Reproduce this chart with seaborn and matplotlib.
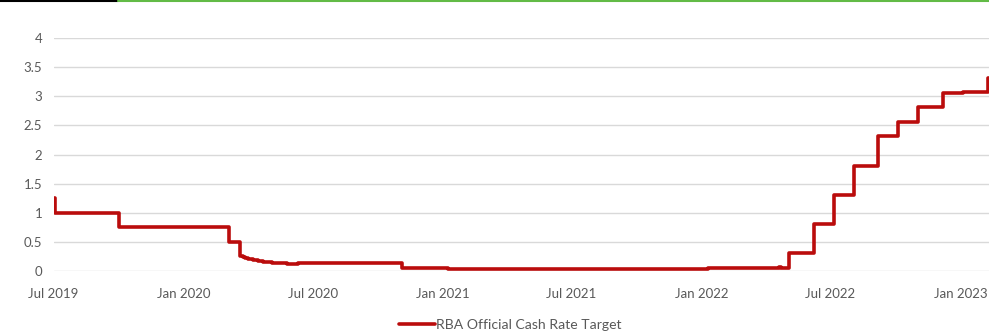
import matplotlib
matplotlib.use("Agg")
import matplotlib.pyplot as plt
import matplotlib.dates as mdates
from matplotlib.lines import Line2D
import seaborn as sns
import pandas as pd

# Data: RBA cash rate step changes (date of change, new level)
dates = [
    "2019-07-01", "2019-07-03", "2019-10-02", "2020-03-04", "2020-03-20",
    "2020-03-24", "2020-03-27", "2020-04-01", "2020-04-07", "2020-04-14",
    "2020-04-21", "2020-04-28", "2020-05-05", "2020-05-12", "2020-05-25",
    "2020-06-10", "2020-06-25", "2020-08-15", "2020-11-04", "2020-12-01",
    "2021-01-07", "2022-01-10", "2022-04-19", "2022-04-22", "2022-05-04",
    "2022-06-08", "2022-07-06", "2022-08-03", "2022-09-07", "2022-10-05",
    "2022-11-02", "2022-12-07", "2023-01-05", "2023-02-08", "2023-02-10",
]
rates = [
    1.25, 1.00, 0.75, 0.50, 0.25,
    0.245, 0.23, 0.21, 0.19, 0.17,
    0.16, 0.15, 0.14, 0.13, 0.12,
    0.13, 0.14, 0.13, 0.06, 0.05,
    0.03, 0.05, 0.065, 0.05, 0.31,
    0.81, 1.31, 1.81, 2.31, 2.56,
    2.81, 3.06, 3.08, 3.31, 3.31,
]
series_name = "RBA Official Cash Rate Target"
y_ticks = [0, 0.5, 1, 1.5, 2, 2.5, 3, 3.5, 4]
y_tick_labels = ["0", "0.5", "1", "1.5", "2", "2.5", "3", "3.5", "4"]
x_ticks = ["2019-07-01", "2020-01-01", "2020-07-01", "2021-01-01",
           "2021-07-01", "2022-01-01", "2022-07-01", "2023-01-01"]

df = pd.DataFrame({"date": pd.to_datetime(dates), "rate": rates})

sns.set_style("white")
plt.rcParams["font.family"] = ["Lato", "DejaVu Sans"]

W, H = 989, 332
fig = plt.figure(figsize=(W / 100, H / 100), dpi=100)
ax = fig.add_axes([53.5 / W, (H - 271) / H, (W - 53.5) / W, (271 - 38) / H])

red = "#BA0C0C"
lw = 2.6
sns.lineplot(data=df, x="date", y="rate", ax=ax, color=red, linewidth=lw,
             drawstyle="steps-post", estimator=None, legend=False)

ax.set_xlim(pd.Timestamp("2019-07-01"), pd.Timestamp("2023-02-10"))
ax.set_ylim(0, 4)
ax.set_yticks(y_ticks)
ax.set_yticklabels(y_tick_labels)
ax.set_xticks(pd.to_datetime(x_ticks))
ax.xaxis.set_major_formatter(mdates.DateFormatter("%b %Y"))
ax.set_xlabel("")
ax.set_ylabel("")

ax.yaxis.grid(True, color="#D9D9D9", linewidth=1.0)
ax.xaxis.grid(False)
ax.set_axisbelow(True)
for s in ax.spines.values():
    s.set_visible(False)
ax.tick_params(axis="both", length=0, labelsize=9.5, labelcolor="#595959")
ax.tick_params(axis="y", pad=8)
ax.tick_params(axis="x", pad=12)

handle = Line2D([0], [0], color=red, linewidth=lw)
fig.legend([handle], [series_name], loc="center",
           bbox_to_anchor=(510 / W, 1 - 325 / H), frameon=False,
           fontsize=10.1, labelcolor="#595959", handlelength=2.6,
           handletextpad=0.05, borderpad=0)

# decorative top rule
fig.add_artist(Line2D([0, 118 / W], [1 - 1 / H] * 2, color="black",
                      linewidth=1.5, transform=fig.transFigure))
fig.add_artist(Line2D([118 / W, 1], [1 - 1 / H] * 2, color="#62BB46",
                      linewidth=1.5, transform=fig.transFigure))

fig.savefig("out.png", dpi=100)
